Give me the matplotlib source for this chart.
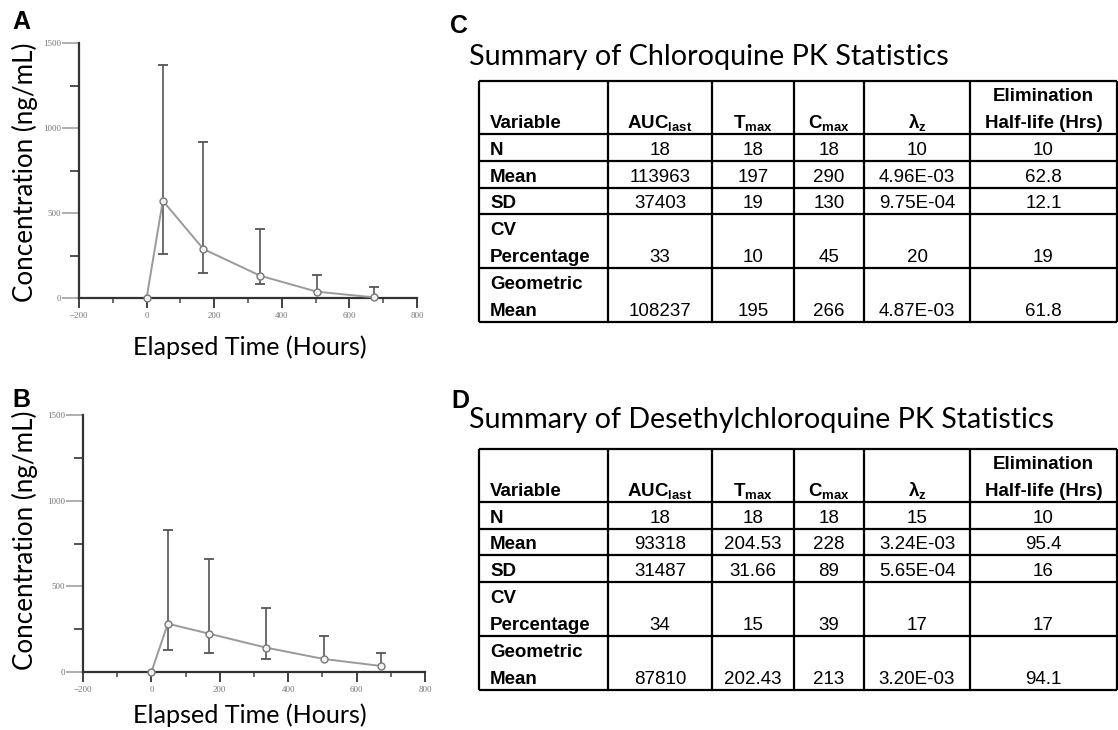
import numpy as np
import matplotlib
matplotlib.use("Agg")
import matplotlib.pyplot as plt
from matplotlib.ticker import MultipleLocator

# =========================
# Data
# =========================
hours = [0, 48, 168, 336, 504, 672]

# (A) chloroquine: mean, upper and lower ends of the bars (nan = no bar)
cq_mean = [0, 572, 288, 131, 37, 4]
cq_upper = [np.nan, 1369, 918, 406, 135, 65]
cq_lower = [np.nan, 261, 147, 82, np.nan, np.nan]

# (B) desethylchloroquine
dcq_mean = [0, 282, 224, 142, 76, 35]
dcq_upper = [np.nan, 828, 657, 376, 212, 113]
dcq_lower = [np.nan, 127, 113, 74, np.nan, np.nan]

x_ticks = [-200, 0, 200, 400, 600, 800]
y_ticks = [0, 500, 1000, 1500]

header = ["Variable", r"$\mathbf{AUC}_{\mathbf{last}}$", r"$\mathbf{T}_{\mathbf{max}}$",
          r"$\mathbf{C}_{\mathbf{max}}$", r"$\mathbf{λ}_{\mathbf{z}}$",
          "Elimination\nHalf-life (Hrs)"]
row_labels = ["N", "Mean", "SD", "CV\nPercentage", "Geometric\nMean"]

cq_auc = ["18", "113963", "37403", "33", "108237"]
cq_tmax = ["18", "197", "19", "10", "195"]
cq_cmax = ["18", "290", "130", "45", "266"]
cq_lz = ["10", "4.96E-03", "9.75E-04", "20", "4.87E-03"]
cq_thalf = ["10", "62.8", "12.1", "19", "61.8"]

dcq_auc = ["18", "93318", "31487", "34", "87810"]
dcq_tmax = ["18", "204.53", "31.66", "15", "202.43"]
dcq_cmax = ["18", "228", "89", "39", "213"]
dcq_lz = ["15", "3.24E-03", "5.65E-04", "17", "3.20E-03"]
dcq_thalf = ["10", "95.4", "16", "17", "94.1"]

# =========================
# Style / layout (pixels)
# =========================
W, H = 1118, 730
plt.rcParams.update({
    "mathtext.fontset": "custom",
    "mathtext.rm": "Liberation Sans",
    "mathtext.bf": "Liberation Sans:bold",
    "mathtext.it": "Liberation Sans:italic",
})
label_font = "Lato"
table_font = "Liberation Sans"

fig = plt.figure(figsize=(W / 100, H / 100), dpi=100)


def box(l, t, r, b):
    return [l / W, 1 - b / H, (r - l) / W, (b - t) / H]


over = fig.add_axes([0, 0, 1, 1])
over.set_xlim(0, W)
over.set_ylim(H, 0)
over.axis("off")


def pk_panel(rect, mean, upper, lower):
    ax = fig.add_axes(rect)
    ax.set_xlim(-200, 800)
    ax.set_ylim(0, 1500)
    ax.set_facecolor("none")
    for s in ["top", "right"]:
        ax.spines[s].set_visible(False)
    for s in ["left", "bottom"]:
        ax.spines[s].set_color("#333333")
        ax.spines[s].set_linewidth(1.6)
    ax.set_xticks(x_ticks)
    ax.set_yticks(y_ticks)
    ax.xaxis.set_minor_locator(MultipleLocator(100))
    ax.yaxis.set_minor_locator(MultipleLocator(250))
    ax.tick_params(axis="x", which="major", length=7, width=1.3, color="#333333",
                   pad=3, labelsize=6.5, labelcolor="#777777")
    ax.tick_params(axis="x", which="minor", length=3.5, width=1.1, color="#444444")
    ax.tick_params(axis="y", which="major", length=12, width=1.1, color="#999999",
                   pad=1, labelsize=6.5, labelcolor="#777777")
    ax.tick_params(axis="y", which="minor", length=6.5, width=1.3, color="#444444")
    for lab in ax.get_xticklabels() + ax.get_yticklabels():
        lab.set_family("Liberation Serif")

    m = np.array(mean, dtype=float)
    up = np.array(upper, dtype=float)
    lo = np.array(lower, dtype=float)
    hi_end = np.where(np.isnan(up), m, up)
    lo_end = np.where(np.isnan(lo), m, lo)
    ax.vlines(hours, lo_end, hi_end, color="#555555", linewidth=1.2, zorder=2)
    ax.plot(hours, up, ls="none", marker="_", markersize=7.5, mew=1.3,
            color="#555555", zorder=2, clip_on=False)
    ax.plot(hours, lo, ls="none", marker="_", markersize=7.5, mew=1.3,
            color="#555555", zorder=2, clip_on=False)
    ax.plot(hours, mean, color="#9a9a9a", linewidth=1.4, marker="o", markersize=5,
            markerfacecolor="#f2f2f2", markeredgecolor="#777777", mew=1.0,
            zorder=3, clip_on=False)
    return ax


pk_panel(box(79, 43, 417, 298), cq_mean, cq_upper, cq_lower)
pk_panel(box(83, 415, 425, 672), dcq_mean, dcq_upper, dcq_lower)

fitted = []


def fit_text(t, target, vertical=False):
    fitted.append((t, target, vertical))


# axis labels
for cy, base in [(172, 355), (540, 723)]:
    t = over.text(33, cy, "Concentration (ng/mL)", rotation=90, rotation_mode="anchor",
                  ha="center", va="baseline", family=label_font, fontsize=18)
    fit_text(t, 258, vertical=True)
    t = over.text(250, base, "Elapsed Time (Hours)", ha="center", va="baseline",
                  family=label_font, fontsize=18)
    fit_text(t, 234)

# panel letters
for x, y, s in [(12, 10, "A"), (12, 388, "B"), (450, 14, "C"), (451, 389, "D")]:
    over.text(x, y, s, ha="left", va="top", family=table_font, fontweight="bold",
              fontsize=18)

cols = [479, 608, 712, 794, 864, 970, 1117]


def pk_table(base_title, title, width, rows, columns):
    t = over.text(469, base_title, title, ha="left", va="baseline",
                  family=label_font, fontsize=20)
    fit_text(t, width)
    # borders
    over.hlines(rows, cols[0], cols[-1], color="black", linewidth=1.6)
    over.vlines(cols, rows[0], rows[-1], color="black", linewidth=1.6)
    line_h = 27

    def cell(ci, ri, s, bold):
        lines = s.split("\n")
        bottom = rows[ri + 1] - 6
        for k, ln in enumerate(reversed(lines)):
            if ci == 0:
                x, ha = cols[0] + 11, "left"
            else:
                x, ha = (cols[ci] + cols[ci + 1]) / 2, "center"
            over.text(x, bottom - k * line_h, ln, ha=ha, va="baseline",
                      family=table_font, fontsize=13.5,
                      fontweight="bold" if bold else "normal")

    for ci, h in enumerate(header):
        cell(ci, 0, h, True)
    for ri, lab in enumerate(row_labels):
        cell(0, ri + 1, lab, True)
    for ci, vals in enumerate(columns):
        for ri, v in enumerate(vals):
            cell(ci + 1, ri + 1, v, False)


pk_table(65, "Summary of Chloroquine PK Statistics", 479,
         [81, 134, 161, 188, 214, 268, 322],
         [cq_auc, cq_tmax, cq_cmax, cq_lz, cq_thalf])
pk_table(428, "Summary of Desethylchloroquine PK Statistics", 584,
         [449, 502, 529, 555, 582, 636, 690],
         [dcq_auc, dcq_tmax, dcq_cmax, dcq_lz, dcq_thalf])

# scale the Calibri-like texts to the widths seen in the figure
fig.canvas.draw()
r = fig.canvas.get_renderer()
for t, target, vertical in fitted:
    bb = t.get_window_extent(r)
    w = bb.height if vertical else bb.width
    t.set_fontsize(t.get_fontsize() * target / w)

fig.savefig("out.png", dpi=100)
plt.close(fig)
